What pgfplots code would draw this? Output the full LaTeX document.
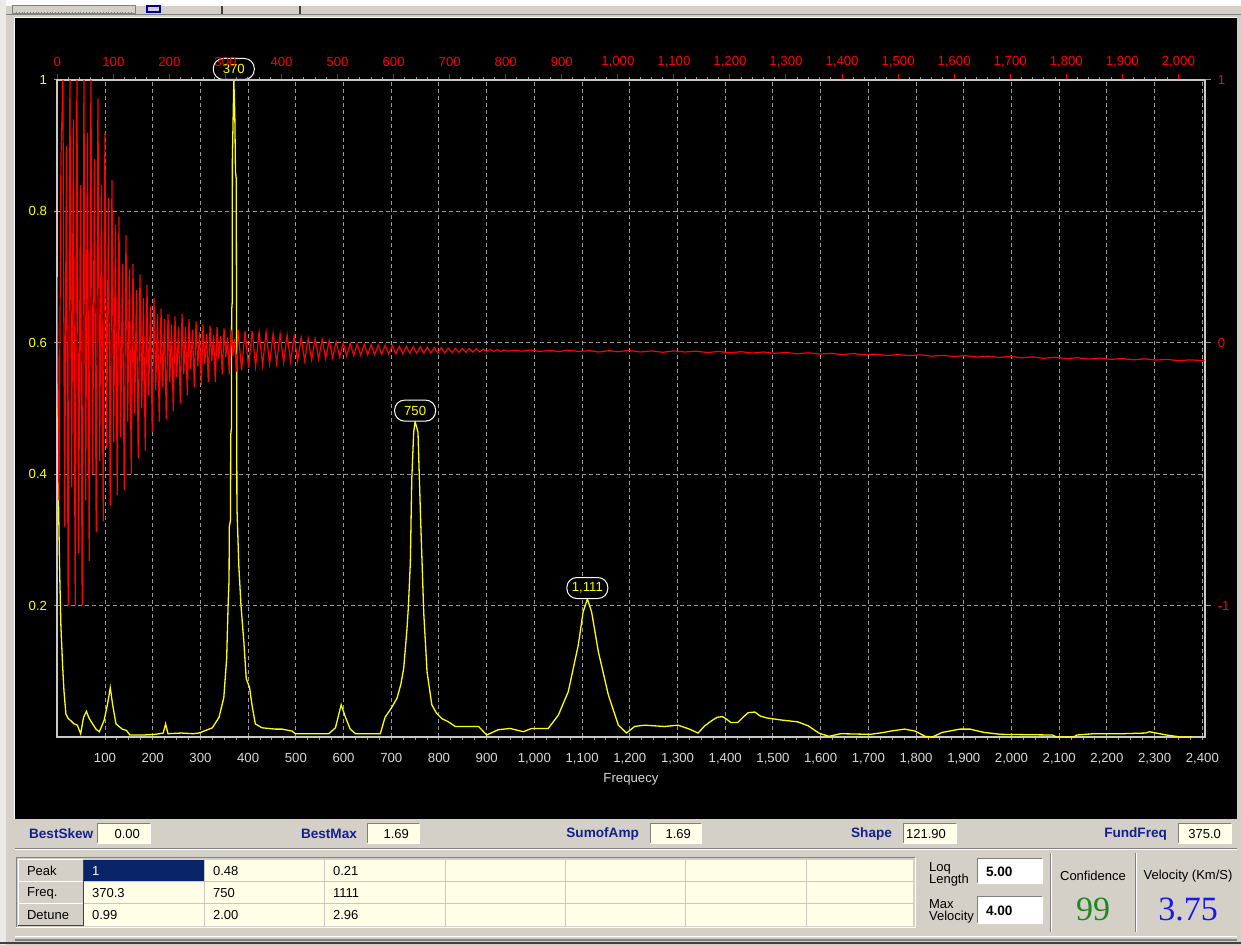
\documentclass[border=0pt]{standalone}
\usepackage{fontspec}
\setmainfont{Liberation Sans}
\newfontfamily\numserif{Liberation Serif}
\usepackage{pgfplots}
\pgfplotsset{compat=1.18}
\usepackage{pgfplotstable}

\definecolor{winface}{HTML}{D4D0C8}
\definecolor{winshadow}{HTML}{808080}
\definecolor{windark}{HTML}{404040}
\definecolor{cellbg}{HTML}{FFFFE8}
\definecolor{cellline}{HTML}{C8C8C0}
\definecolor{navysel}{HTML}{0A246A}
\definecolor{labnavy}{HTML}{14208C}
\definecolor{specyellow}{HTML}{FFFF00}
\definecolor{sigred}{HTML}{FF0000}
\definecolor{gridgray}{HTML}{9A9A9A}
\definecolor{framegray}{HTML}{C8C8C8}
\definecolor{ticklabgray}{HTML}{D8D8D8}
\definecolor{confgreen}{HTML}{1E8A1E}
\definecolor{velblue}{HTML}{1818F0}

\newcommand\axfont{\fontsize{6.6}{7.5}\selectfont}
\newcommand\uifont{\fontsize{6.5}{7.5}\selectfont}
\newcommand\uibold{\fontsize{6.8}{7.5}\selectfont\bfseries}

% amplitude spectrum: frequency vs. relative amplitude
\pgfplotstableread{
f a
0 0.50
2.5 0.36
5 0.25
7.5 0.17
11 0.11
14 0.07
18 0.035
23 0.028
28 0.025
35 0.020
42 0.018
49 0.005
55 0.030
61 0.039
67 0.028
74 0.020
81 0.012
88 0.008
94 0.018
98 0.025
105 0.049
111 0.075
116 0.049
123 0.020
136 0.012
145 0.010
152 0.003
180 0.003
205 0.004
222 0.006
227 0.020
232 0.005
260 0.006
285 0.005
297 0.006
311 0.010
325 0.014
339 0.030
349 0.060
355 0.120
358 0.200
360 0.240
360.5 0.320
363 0.330
363.5 0.460
365 0.470
365.5 0.650
366.5 0.660
367 0.880
370 1.000
372 0.950
373.5 0.860
375 0.850
376.5 0.350
380.5 0.260
385 0.200
391 0.145
396 0.089
403 0.075
408 0.049
415 0.020
429 0.014
457 0.012
471 0.012
492 0.009
499 0.005
569 0.005
583 0.014
595 0.049
604 0.030
614 0.012
625 0.005
677 0.005
687 0.030
701 0.045
712 0.059
720 0.080
726 0.104
733 0.165
736 0.200
740 0.266
743 0.393
747 0.464
750 0.480
756 0.464
761 0.343
768 0.190
775 0.099
785 0.049
795 0.036
806 0.028
820 0.023
834 0.016
883 0.016
900 0.003
924 0.011
949 0.013
977 0.008
994 0.013
1029 0.013
1050 0.033
1071 0.069
1092 0.140
1102 0.190
1111 0.210
1120 0.190
1134 0.130
1155 0.064
1176 0.018
1193 0.006
1210 0.016
1231 0.018
1273 0.016
1301 0.018
1325 0.012
1343 0.006
1357 0.017
1372 0.025
1383 0.030
1394 0.031
1401 0.028
1412 0.022
1426 0.022
1437 0.030
1448 0.037
1462 0.038
1473 0.032
1487 0.029
1516 0.026
1552 0.023
1574 0.017
1596 0.006
1617 0.001
1642 0.005
1704 0.004
1733 0.007
1747 0.009
1776 0.012
1798 0.009
1819 0.001
1834 0.000
1855 0.007
1892 0.012
1913 0.012
1942 0.007
1978 0.004
2086 0.003
2094 0.000
2130 0.000
2137 0.003
2173 0.005
2231 0.005
2281 0.006
2289 0.008
2325 0.003
2354 0.000
2379 0.000
}\spectrum

% recorded signal: sample index vs. normalised amplitude
\pgfplotstableread{
n v
0 0.25
3 -0.6
6.5 0.7
10 1.0
13.1 -0.7
16.2 0.75
19.4 -1.0
22.5 1.0
25.6 -0.55
28.7 0.85
31.9 -1.0
35 1.0
38.1 -0.8
41.2 0.6
44.4 -1.0
47.5 1.0
50.6 -0.6
53.7 0.8
56.9 -0.83
60 1.0
63.1 -0.5
66.2 0.7
69.4 -0.72
72.5 0.93
75.6 -0.45
78.7 0.6
81.9 -0.68
85 0.8
88.1 -0.4
91.2 0.55
94.4 -0.62
97.5 0.62
100.6 -0.38
103.7 0.45
106.9 -0.58
110 0.48
113.1 -0.36
116.2 0.3
119.4 -0.56
122.5 0.41
125.6 -0.3
128.7 0.28
131.9 -0.5
135 0.3
138.1 -0.27
141.2 0.2
144.4 -0.44
147.5 0.26
150.6 -0.25
153.7 0.17
156.9 -0.41
160 0.22
163.1 -0.2
166.2 0.14
169.4 -0.34
172.5 0.17
175.6 -0.18
178.7 0.11
181.9 -0.30
185 0.13
188.1 -0.17
191.2 0.09
194.4 -0.29
197.5 0.11
200.6 -0.15
203.7 0.07
206.9 -0.26
210 0.10
213.1 -0.13
216.2 0.06
219.4 -0.23
222.5 0.11
225.6 -0.12
228.7 0.06
231.9 -0.20
235 0.09
238.1 -0.10
241.2 0.05
244.4 -0.17
247.5 0.08
250.6 -0.09
253.7 0.04
256.9 -0.16
260 0.07
263.1 -0.08
266.2 0.035
269.4 -0.15
272.5 0.065
275.6 -0.07
278.7 0.03
281.9 -0.15
285 0.06
288.1 -0.06
291.2 0.025
294.4 -0.12
297.5 0.055
300.6 -0.055
303.7 0.02
306.9 -0.12
310 0.05
313.1 -0.05
316.2 0.015
319.4 -0.11
322.5 0.05
328.8 -0.105
335 0.045
341.2 -0.095
347.5 0.045
353.8 -0.09
360 0.04
366.2 -0.085
372.5 0.04
378.8 -0.08
385 0.035
391.2 -0.078
397.5 0.033
403.8 -0.075
410 0.03
416.2 -0.072
422.5 0.025
428.8 -0.07
435 0.02
441.2 -0.068
447.5 0.017
453.8 -0.065
460 0.015
466.2 -0.062
472.5 0.012
478.8 -0.06
485 0.008
491.2 -0.057
497.5 0.004
503.8 -0.054
510 0.0
516.2 -0.05
522.5 -0.002
528.8 -0.048
535 -0.004
541.2 -0.047
547.5 -0.005
553.8 -0.046
560 -0.006
566.2 -0.045
572.5 -0.008
578.8 -0.044
585 -0.009
591.2 -0.043
597.5 -0.011
603.8 -0.042
610 -0.013
616.2 -0.041
622.5 -0.014
628.8 -0.040
635 -0.015
641.2 -0.040
647.5 -0.016
653.8 -0.039
660 -0.017
666.2 -0.039
672.5 -0.018
678.8 -0.038
685 -0.019
691.2 -0.038
697.5 -0.020
703.8 -0.037
710 -0.021
716.2 -0.036
722.5 -0.022
728.8 -0.036
735 -0.022
741.2 -0.035
747.5 -0.023
753.8 -0.035
760 -0.024
766.2 -0.034
772.5 -0.025
778.8 -0.033
785 -0.026
791.2 -0.033
797.5 -0.027
803.8 -0.032
815 -0.028
830 -0.032
845 -0.027
860 -0.033
880 -0.029
895 -0.034
910 -0.028
930 -0.033
950 -0.030
965 -0.035
985 -0.030
1000 -0.034
1020 -0.029
1040 -0.035
1060 -0.031
1080 -0.036
1100 -0.031
1120 -0.035
1140 -0.032
1160 -0.037
1180 -0.033
1200 -0.038
1220 -0.034
1240 -0.039
1260 -0.035
1280 -0.040
1300 -0.037
1320 -0.042
1340 -0.038
1360 -0.043
1380 -0.040
1400 -0.045
1420 -0.041
1440 -0.046
1460 -0.043
1480 -0.048
1500 -0.045
1520 -0.049
1540 -0.046
1560 -0.051
1580 -0.048
1600 -0.052
1620 -0.049
1640 -0.054
1660 -0.051
1680 -0.056
1700 -0.052
1720 -0.057
1740 -0.054
1760 -0.059
1780 -0.055
1800 -0.060
1820 -0.057
1840 -0.062
1860 -0.058
1880 -0.063
1900 -0.060
1920 -0.065
1940 -0.061
1960 -0.066
1980 -0.063
2000 -0.068
2020 -0.065
2047 -0.068
}\signal

\tikzset{
  bubble/.style={draw=white, fill=black, rounded corners=5pt, text=specyellow,
    font=\axfont, inner xsep=1pt, inner ysep=0.5pt, minimum height=10.5pt,
    minimum width=20.5pt, anchor=south, line width=0.5pt},
}

% sunken edit box: x1 y1 x2 y2 fill
\newcommand\sunkbox[5]{%
  \fill[#5] (#1,#2) rectangle (#3,#4);
  \draw[winshadow, line width=0.5pt] (#1,#2)--(#1,#4)--(#3,#4);
  \draw[white, line width=0.5pt] (#1,#2)--(#3,#2)--(#3,#4);}
% raised header cell: x1 y1 x2 y2
\newcommand\raisecell[4]{%
  \fill[winface] (#1,#2) rectangle (#3,#4);
  \draw[white, line width=0.5pt] (#1,#2)--(#1,#4)--(#3,#4);
  \draw[windark, line width=0.5pt] (#1,#2)--(#3,#2)--(#3,#4);}

\begin{document}
\begin{tikzpicture}[x=0.5pt,y=0.5pt]
\path[use as bounding box] (0,0) rectangle (1241,945);
% window background and toolbar strip
\fill[winface] (0,0) rectangle (1241,945);
\fill[white] (0,939) rectangle (1241,945);
\fill[white!55!winface] (0,0) rectangle (6,945);
\draw[winshadow, line width=0.5pt] (12,931) rectangle (135,939);
\draw[winshadow, densely dotted, line width=0.4pt] (16,933) -- (131,933);
\draw[blue!60!black, line width=0.6pt] (147,933) rectangle (160,939);
\draw[windark, line width=0.6pt] (222,931) -- (222,939);
\draw[windark, line width=0.6pt] (300,931) -- (300,939);
\draw[winshadow, line width=0.5pt] (6,930) -- (1241,930);
% chart panel
\fill[black] (15,126) rectangle (1237,927);
\draw[white, line width=0.5pt] (14.5,126) -- (14.5,927.5) -- (1237,927.5);

\begin{axis}[
  at={(28.65pt,104pt)}, anchor=south west,
  scale only axis, width=573.7pt, height=328.5pt,
  xmin=0, xmax=2405, ymin=0, ymax=1,
  clip=false,
  axis line style={framegray, line width=1pt},
  xtick={100,200,...,2400}, minor x tick num=3,
  ytick={0.2,0.4,0.6,0.8,1},
  xtick pos=left, ytick pos=left,
  tick align=outside,
  major tick length=1.6pt, minor tick length=1.6pt,
  tick style={gridgray, line width=0.5pt},
  grid=major,
  major grid style={gridgray, dash pattern=on 2pt off 1.5pt, line width=0.5pt},
  /pgf/number format/assume math mode=true,
  xticklabel style={ticklabgray, font=\axfont, yshift=-3pt},
  yticklabel style={specyellow, font=\axfont},
  xlabel={Frequecy},
  xlabel style={ticklabgray, font=\axfont, at={(axis description cs:0.5,-0.064)}, anchor=center},
]
\addplot[specyellow, line width=0.65pt] table[x=f, y=a] {\spectrum};
\node[bubble] at (axis cs:370,1) {370};
\node[bubble] at (axis cs:750,0.48) {750};
\node[bubble] at (axis cs:1111,0.21) {1,111};
\end{axis}

\begin{axis}[
  at={(28.65pt,104pt)}, anchor=south west,
  scale only axis, width=573.7pt, height=328.5pt,
  xmin=0, xmax=2047, ymin=-1.5, ymax=1,
  axis x line*=top, axis y line*=right,
  axis line style={framegray, line width=1pt, -},
  xtick={0,100,...,2000}, minor x tick num=4,
  ytick={-1,0,1},
  tick align=outside,
  major tick length=3pt, minor tick length=1.6pt,
  major x tick style={sigred, line width=0.5pt},
  minor x tick style={gridgray, line width=0.5pt},
  y tick style={gridgray, line width=0.5pt},
  /pgf/number format/assume math mode=true,
  xticklabel style={sigred, font=\axfont},
  yticklabel style={sigred, font=\axfont},
]
\addplot[sigred, line width=0.6pt] table[x=n, y=v] {\signal};
\end{axis}

% parameter strip
\node[anchor=west, text=labnavy, font=\uibold] at (22,111) {BestSkew};
\sunkbox{97}{101}{150}{121}{cellbg}
\node[anchor=east, font=\uifont] at (147,111) {0.00};
\node[anchor=east, text=labnavy, font=\uibold] at (364,111) {BestMax};
\sunkbox{367}{101}{419}{121}{cellbg}
\node[anchor=east, font=\uifont] at (416,111) {1.69};
\node[anchor=east, text=labnavy, font=\uibold] at (646,111) {SumofAmp};
\sunkbox{650}{101}{701}{121}{cellbg}
\node[anchor=east, font=\uifont] at (698,111) {1.69};
\node[anchor=east, text=labnavy, font=\uibold] at (899,111) {Shape};
\sunkbox{903}{101}{956}{121}{cellbg}
\node[anchor=east, font=\uifont] at (953,111) {121.90};
\node[anchor=east, text=labnavy, font=\uibold] at (1174,111) {FundFreq};
\sunkbox{1178}{101}{1231}{121}{cellbg}
\node[anchor=east, font=\uifont] at (1228,111) {375.0};
\draw[winshadow, line width=0.5pt] (15,96) -- (1237,96);
\draw[white, line width=0.5pt] (15,95) -- (1237,95);

% peak table
\fill[cellbg] (83,19) rectangle (913,85);
\fill[navysel] (83,63) rectangle (204,85);
\foreach \x in {204,324,445,565,685,806} \draw[cellline, line width=0.5pt] (\x,19) -- (\x,85);
\foreach \y in {41,63} \draw[cellline, line width=0.5pt] (83,\y) -- (913,\y);
\raisecell{18}{63}{83}{85}
\raisecell{18}{41}{83}{63}
\raisecell{18}{19}{83}{41}
\draw[winshadow, line width=0.5pt] (16,17) -- (16,87) -- (915,87);
\draw[white, line width=0.5pt] (16,17) -- (915,17) -- (915,87);
\node[anchor=west, font=\uifont] at (20,74) {Peak};
\node[anchor=west, font=\uifont] at (20,52) {Freq.};
\node[anchor=west, font=\uifont] at (20,30) {Detune};
\node[anchor=west, font=\uifont, text=white] at (85,74) {1};
\node[anchor=west, font=\uifont] at (206,74) {0.48};
\node[anchor=west, font=\uifont] at (326,74) {0.21};
\node[anchor=west, font=\uifont] at (85,52) {370.3};
\node[anchor=west, font=\uifont] at (206,52) {750};
\node[anchor=west, font=\uifont] at (326,52) {1111};
\node[anchor=west, font=\uifont] at (85,30) {0.99};
\node[anchor=west, font=\uifont] at (206,30) {2.00};
\node[anchor=west, font=\uifont] at (326,30) {2.96};

% input boxes
\node[anchor=west, font=\uifont, align=left] at (922,71) {Loq\\[-1.5pt]Length};
\node[anchor=west, font=\uifont, align=left] at (922,34) {Max\\[-1.5pt]Velocity};
\sunkbox{977}{61}{1042}{86}{white}
\sunkbox{977}{21}{1042}{48}{white}
\node[anchor=west, font=\uibold] at (979,73.5) {5.00};
\node[anchor=west, font=\uibold] at (979,34.5) {4.00};

% result panels
\draw[winshadow, line width=0.5pt] (1050,13) -- (1050,92);
\draw[white, line width=0.5pt] (1051,13) -- (1051,92);
\draw[winshadow, line width=0.5pt] (1135,13) -- (1135,92);
\draw[white, line width=0.5pt] (1136,13) -- (1136,92);
\node[font=\uifont] at (1093,69) {Confidence};
\node[font=\numserif\fontsize{17}{18}\selectfont, text=confgreen] at (1093,36) {99};
\node[font=\uifont] at (1188,69) {Velocity (Km/S)};
\node[font=\numserif\fontsize{17}{18}\selectfont, text=velblue] at (1188,36) {3.75};

% lower window edge
\draw[white, line width=0.5pt] (15,8) -- (1237,8);
\draw[winshadow, line width=0.8pt] (15,5) -- (1237,5);
\draw[windark, line width=0.8pt] (0,2) -- (1241,2);
\end{tikzpicture}
\end{document}
